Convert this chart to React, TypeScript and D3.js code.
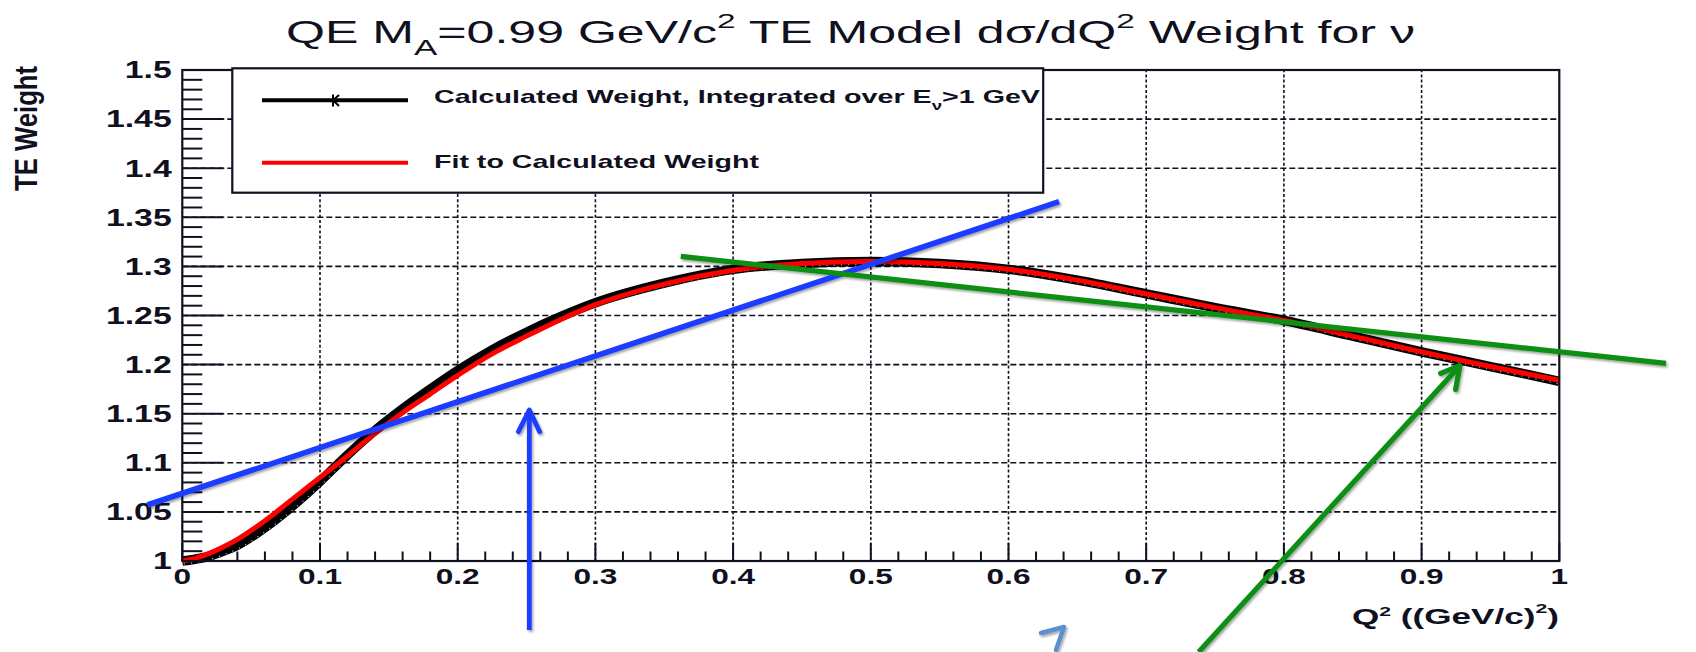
import React from 'react';
import * as d3 from 'd3';

const W = 1696;
const H = 652;
const FONT = "'Liberation Sans', Arial, Helvetica, sans-serif";
const INK = '#101020';

// Q^2 sampling points, (GeV/c)^2
const q2Grid = [
  0, 0.01, 0.02, 0.03, 0.04, 0.06, 0.08, 0.1, 0.12, 0.14, 0.16, 0.18, 0.2, 0.225, 0.25, 0.275,
  0.3, 0.35, 0.4, 0.45, 0.5, 0.55, 0.6, 0.65, 0.7, 0.75, 0.8, 0.85, 0.9, 0.95, 1.0,
];

// Calculated weight, integrated over E_nu > 1 GeV
const calcWeight = [
  1.0, 1.002, 1.005, 1.01, 1.016, 1.034, 1.056, 1.081, 1.108, 1.133, 1.155, 1.175, 1.194, 1.215,
  1.233, 1.249, 1.263, 1.283, 1.297, 1.303, 1.305, 1.303, 1.297, 1.286, 1.272, 1.258, 1.245,
  1.229, 1.213, 1.198, 1.183,
];

// Fit to the calculated weight
const fitWeight = [
  1.0, 1.003, 1.008, 1.0145, 1.022, 1.041, 1.063, 1.085, 1.107, 1.13, 1.151, 1.17, 1.189, 1.211,
  1.229, 1.246, 1.261, 1.282, 1.296, 1.303, 1.305, 1.303, 1.297, 1.286, 1.272, 1.258, 1.245,
  1.229, 1.213, 1.198, 1.184,
];

const xTicks = [0, 0.1, 0.2, 0.3, 0.4, 0.5, 0.6, 0.7, 0.8, 0.9, 1.0];
const yTicks = [1.0, 1.05, 1.1, 1.15, 1.2, 1.25, 1.3, 1.35, 1.4, 1.45, 1.5];

// Hand-drawn annotations, in (Q^2, weight) coordinates
const blueTangent: [number, number][] = [[-0.0254, 1.057], [0.6367, 1.3659]];
const greenTangent: [number, number][] = [[0.362, 1.3102], [1.0775, 1.2013]];
const blueArrowShaft: [number, number][] = [[0.252, 0.9297], [0.252, 1.1538]];
const blueArrowHead: [number, number][] = [[0.2441, 1.1317], [0.252, 1.1538], [0.2595, 1.1317]];
const greenArrowShaft: [number, number][] = [[0.7381, 0.9073], [0.9278, 1.1989]];
const greenArrowHead: [number, number][] = [[0.9138, 1.1911], [0.9278, 1.1989], [0.9247, 1.1748]];
const paleArrowHead: [number, number][] = [[0.6236, 0.9267], [0.6403, 0.9328], [0.6345, 0.9094]];

function SText(props: {
  x: number;
  y: number;
  sx: number;
  size: number;
  anchor: 'start' | 'middle' | 'end';
  children: React.ReactNode;
}) {
  const { x, y, sx, size, anchor, children } = props;
  return (
    <text
      transform={`translate(${x},${y}) scale(${sx},1)`}
      textAnchor={anchor}
      fontSize={size}
      fontWeight="bold"
      fontFamily={FONT}
      fill={INK}
    >
      {children}
    </text>
  );
}

export default function App() {
  const x = d3.scaleLinear().domain([0, 1]).range([182.3, 1559.3]);
  const y = d3.scaleLinear().domain([1, 1.5]).range([561, 70]);

  const curve = (vals: number[]) =>
    d3
      .line<number>()
      .x((_, i) => x(q2Grid[i]))
      .y((d) => y(d))
      .curve(d3.curveMonotoneX)(vals) || '';

  const seg = d3
    .line<[number, number]>()
    .x((d) => x(d[0]))
    .y((d) => y(d[1]));

  const fmtY = d3.format('.2~f');
  const fmtX = d3.format('.1~f');

  const xMinor = x.ticks(50);
  const yMinor = y.ticks(50);
  const isMajorX = (v: number) => Math.abs(v * 10 - Math.round(v * 10)) < 1e-6;
  const isMajorY = (v: number) => Math.abs(v * 20 - Math.round(v * 20)) < 1e-6;

  const [x0, x1] = x.range();
  const [yb, yt] = y.range();

  const legend = { x: 232.3, y: 68.3, w: 810.9, h: 124.4 };

  return (
    <svg
      width={W}
      height={H}
      viewBox={`0 0 ${W} ${H}`}
      style={{ position: 'absolute', left: 0, top: 0, background: '#fff' }}
    >
      <defs>
        <filter id="shade" filterUnits="userSpaceOnUse" x={0} y={0} width={W} height={H}>
          <feDropShadow dx={1.5} dy={2} stdDeviation={1.3} floodColor="#000" floodOpacity={0.35} />
        </filter>
      </defs>
      <rect x={0} y={0} width={W} height={H} fill="#fff" />

      {/* grid */}
      <g stroke={INK} strokeWidth={1.6} fill="none">
        {yTicks.slice(1, -1).map((v) => (
          <line key={`gy${v}`} x1={x0} x2={x1} y1={y(v)} y2={y(v)} strokeDasharray="6,3" />
        ))}
        {xTicks.slice(1, -1).map((v) => (
          <line key={`gx${v}`} x1={x(v)} x2={x(v)} y1={yb} y2={yt} strokeDasharray="3,2.2" />
        ))}
      </g>

      {/* ticks */}
      <g stroke={INK} strokeWidth={2}>
        {yMinor.map((v) => (
          <line key={`ty${v}`} x1={x0} x2={x0 + (isMajorY(v) ? 41 : 20)} y1={y(v)} y2={y(v)} />
        ))}
        {xMinor.map((v) => (
          <line key={`tx${v}`} x1={x(v)} x2={x(v)} y1={yb} y2={yb - (isMajorX(v) ? 18 : 9.5)} />
        ))}
      </g>

      {/* calculated weight and its fit */}
      <path d={curve(calcWeight)} fill="none" stroke="#000" strokeWidth={9.5} strokeLinejoin="round" />
      <path
        d={curve(calcWeight)}
        fill="none"
        stroke="#fff"
        strokeWidth={1.2}
        strokeDasharray="1.2,6"
        opacity={0.7}
        transform="translate(1.5,3)"
      />
      <path d={curve(fitWeight)} fill="none" stroke="#ff0000" strokeWidth={5} strokeLinejoin="round" />

      {/* frame */}
      <rect x={x0} y={yt} width={x1 - x0} height={yb - yt} fill="none" stroke={INK} strokeWidth={2.2} />

      {/* legend */}
      <rect x={legend.x} y={legend.y} width={legend.w} height={legend.h} fill="#fff" stroke={INK} strokeWidth={2.2} />
      <line x1={262} x2={408} y1={100.3} y2={100.3} stroke="#000" strokeWidth={4} />
      <path d="M333,94.5V106.5M333,100.3L339,95M333,100.3L339,106" stroke="#000" strokeWidth={2} fill="none" />
      <line x1={262} x2={408} y1={162.7} y2={162.7} stroke="#ff0000" strokeWidth={4} />
      <text
        x={434}
        y={103.3}
        fontSize={18.5}
        fontWeight="bold"
        fontFamily={FONT}
        fill={INK}
        textLength={606}
        lengthAdjust="spacingAndGlyphs"
      >
        Calculated Weight, Integrated over E<tspan dy={7} fontSize={12}>ν</tspan>
        <tspan dy={-7}>&gt;1 GeV</tspan>
      </text>
      <text
        x={434}
        y={168.3}
        fontSize={18.5}
        fontWeight="bold"
        fontFamily={FONT}
        fill={INK}
        textLength={325}
        lengthAdjust="spacingAndGlyphs"
      >
        Fit to Calculated Weight
      </text>

      {/* tick labels */}
      {yTicks.map((v) => (
        <SText key={`ly${v}`} x={171.7} y={y(v) + 8.3} sx={1.47} size={23} anchor="end">
          {fmtY(v)}
        </SText>
      ))}
      {xTicks.map((v) => (
        <SText key={`lx${v}`} x={x(v)} y={584.3} sx={1.47} size={21.5} anchor="middle">
          {fmtX(v)}
        </SText>
      ))}

      {/* axis titles */}
      <text
        x={1352}
        y={624}
        fontSize={21.5}
        fontWeight="bold"
        fontFamily={FONT}
        fill={INK}
        textLength={207}
        lengthAdjust="spacingAndGlyphs"
      >
        Q<tspan dy={-8} fontSize={13}>2</tspan>
        <tspan dy={8}> ((GeV/c)</tspan>
        <tspan dy={-11} fontSize={13}>2</tspan>
        <tspan dy={11}>)</tspan>
      </text>
      <text
        transform="translate(37,128.4) scale(1.28,1) rotate(-90)"
        textAnchor="middle"
        fontSize={24}
        fontWeight="bold"
        fontFamily={FONT}
        fill={INK}
        textLength={125}
        lengthAdjust="spacingAndGlyphs"
      >
        TE Weight
      </text>

      {/* title */}
      <text
        x={286}
        y={43.3}
        fontSize={31.5}
        fontFamily={FONT}
        fill={INK}
        textLength={1129}
        lengthAdjust="spacingAndGlyphs"
      >
        QE M<tspan dy={11.7} fontSize={22}>A</tspan>
        <tspan dy={-11.7}>=0.99 GeV/c</tspan>
        <tspan dy={-15} fontSize={21}>2</tspan>
        <tspan dy={15}> TE Model dσ/dQ</tspan>
        <tspan dy={-15} fontSize={21}>2</tspan>
        <tspan dy={15}> Weight for ν</tspan>
      </text>

      {/* annotations */}
      <g filter="url(#shade)" fill="none" strokeLinejoin="round">
        <path d={seg(blueTangent) || ''} stroke="#1a3cff" strokeWidth={5.6} />
        <path d={seg(greenTangent) || ''} stroke="#0b8f12" strokeWidth={5.2} />
        <path d={seg(blueArrowShaft) || ''} stroke="#1a3cff" strokeWidth={4.8} />
        <path d={seg(blueArrowHead) || ''} stroke="#1a3cff" strokeWidth={4.8} strokeLinecap="round" />
        <path d={seg(greenArrowShaft) || ''} stroke="#0b8f12" strokeWidth={5.2} />
        <path d={seg(greenArrowHead) || ''} stroke="#0b8f12" strokeWidth={5.2} strokeLinecap="round" />
        <path d={seg(paleArrowHead) || ''} stroke="#5b8fd0" strokeWidth={4.5} strokeLinecap="round" />
      </g>
    </svg>
  );
}
